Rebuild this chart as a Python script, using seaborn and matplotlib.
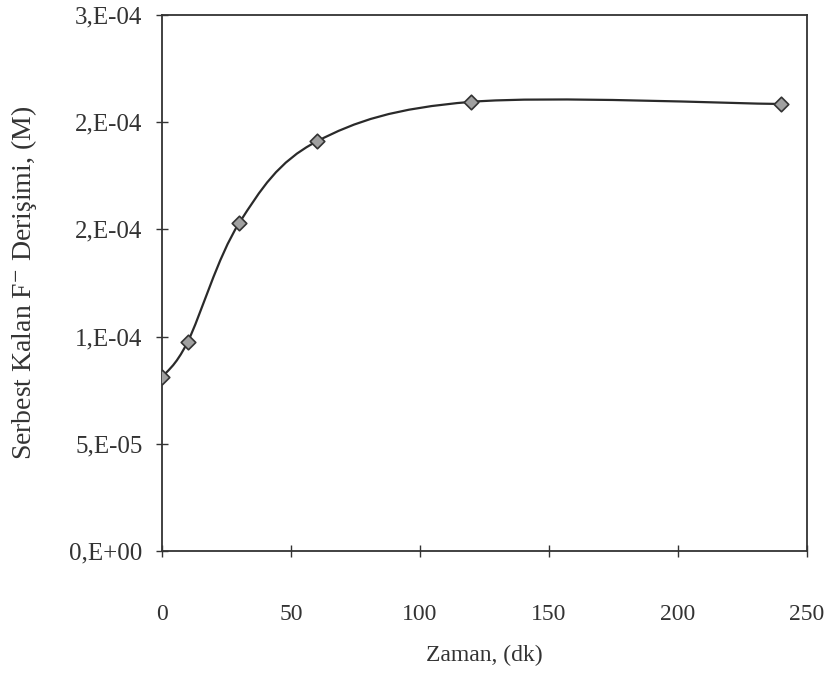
import numpy as np
import pandas as pd
import matplotlib
matplotlib.use("Agg")
import matplotlib.pyplot as plt
from matplotlib.path import Path
from matplotlib.patches import PathPatch
from matplotlib.ticker import FuncFormatter
import seaborn as sns

# time (dk) and free F- concentration (M)
zaman = [0, 10, 30, 60, 120, 240]
derisim = [8.1e-5, 9.75e-5, 1.53e-4, 1.91e-4, 2.095e-4, 2.085e-4]

y_ticks = [0, 5e-5, 1e-4, 1.5e-4, 2e-4, 2.5e-4]
x_ticks = [0, 50, 100, 150, 200, 250]

sns.set_style("ticks")
plt.rcParams['font.family'] = ['Liberation Serif', 'DejaVu Serif']
plt.rcParams['mathtext.fontset'] = 'stix'

fig = plt.figure(figsize=(8.3, 6.73), dpi=100)
ax = fig.add_axes([0.195, 0.1813, 0.777, 0.7964])

df = pd.DataFrame({"zaman": zaman, "derisim": derisim})

# smoothed line like excel (bezier through the points)
x = np.array(zaman, dtype=float)
y = np.array(derisim, dtype=float)
n = len(x)
verts = [(x[0], y[0])]
codes = [Path.MOVETO]
for i in range(n - 1):
    x0, y0 = (x[i - 1], y[i - 1]) if i > 0 else (x[i], y[i])
    x3, y3 = (x[i + 2], y[i + 2]) if i + 2 < n else (x[i + 1], y[i + 1])
    c1 = (x[i] + (x[i + 1] - x0) / 6, y[i] + (y[i + 1] - y0) / 6)
    c2 = (x[i + 1] - (x3 - x[i]) / 6, y[i + 1] - (y3 - y[i]) / 6)
    verts += [c1, c2, (x[i + 1], y[i + 1])]
    codes += [Path.CURVE4] * 3
ax.add_patch(PathPatch(Path(verts, codes), facecolor='none', edgecolor='#2a2a2a', lw=1.6))

sns.scatterplot(data=df, x="zaman", y="derisim", marker='D', s=55,
                color='#a0a0a0', edgecolor='#333333', linewidth=1.2, ax=ax, zorder=3)

ax.set_xlim(0, 250)
ax.set_ylim(0, 2.5e-4)
ax.set_xticks(x_ticks)
ax.set_yticks(y_ticks)


def sci_fmt(v, pos):
    # excel style "1,E-04" with rounded mantissa
    if v == 0:
        return "0,E+00"
    e = int(np.floor(np.log10(abs(v)) + 1e-9))
    m = int(np.floor(v / 10 ** e + 0.5 + 1e-9))
    if m >= 10:
        m = 1
        e += 1
    return "%d,E%s%02d" % (m, '-' if e < 0 else '+', abs(e))


ax.yaxis.set_major_formatter(FuncFormatter(sci_fmt))
ax.tick_params(direction='inout', length=8, width=1.0,
               colors='#333333', labelcolor='#333333')
ax.tick_params(axis='x', pad=34, labelsize=17)
ax.tick_params(axis='y', pad=10, labelsize=18)
for s in ax.spines.values():
    s.set_color('#333333')
    s.set_linewidth(1.3)

ax.set_xlabel("Zaman, (dk)", fontsize=17, color='#333333')
ax.set_ylabel("Serbest Kalan F$^{-}$ Derişimi, (M)", fontsize=20, color='#333333')
ax.xaxis.set_label_coords(0.5, -0.175)
ax.yaxis.set_label_coords(-0.19, 0.5)

fig.savefig("out.png", dpi=100)
